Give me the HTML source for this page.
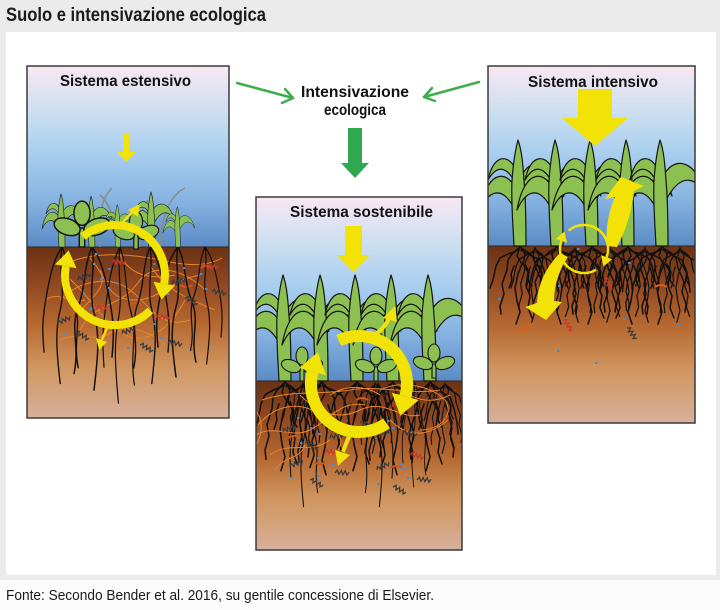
<!DOCTYPE html>
<html><head><meta charset="utf-8"><style>
html,body{margin:0;padding:0;background:#fff;}
svg{display:block;}
text{font-family:"Liberation Sans",sans-serif;}
</style></head><body>
<svg width="720" height="610" viewBox="0 0 720 610" xmlns="http://www.w3.org/2000/svg">
<defs>
<linearGradient id="sky" x1="0" y1="0" x2="0" y2="1">
<stop offset="0" stop-color="#f8e8f2"/><stop offset="0.25" stop-color="#cddff1"/><stop offset="0.5" stop-color="#a6cdee"/><stop offset="0.75" stop-color="#85b2e0"/><stop offset="1" stop-color="#5a8bc5"/>
</linearGradient>
<linearGradient id="soil" x1="0" y1="0" x2="0" y2="1">
<stop offset="0" stop-color="#6a3214"/><stop offset="0.2" stop-color="#8e4620"/><stop offset="0.45" stop-color="#b66830"/><stop offset="0.7" stop-color="#d09660"/><stop offset="0.85" stop-color="#d4a37c"/><stop offset="1" stop-color="#d8b09c"/>
</linearGradient>
<clipPath id="cL"><rect x="27" y="66" width="202" height="352"/></clipPath>
<clipPath id="cM"><rect x="256" y="197" width="206" height="353"/></clipPath>
<clipPath id="cR"><rect x="488" y="66" width="207" height="357"/></clipPath>
<g id="corn" fill="#8cc152" stroke="#151515" stroke-width="1.2" stroke-linejoin="round">
<path d="M-3,-74 C-10,-92 -26,-94 -32,-66 C-24,-80 -14,-82 -4,-62 Z"/>
<path d="M-2,-52 C-10,-76 -32,-80 -40,-36 C-32,-54 -18,-64 -4,-34 Z"/>
<path d="M-1,-64 C6,-88 32,-94 44,-50 C36,-66 20,-78 3,-44 Z"/>
<path d="M-6,0 C-7,-20 -9,-45 -8,-65 C-7,-80 -5,-95 -2,-106 C2,-95 3,-80 4,-65 C6,-45 6,-20 6,0 Z"/>
</g>
<g id="clover" fill="#8cc152" stroke="#151515" stroke-width="1.1">
<path d="M-2,0 L-2,-14 L2,-14 L2,0 Z"/>
<ellipse cx="-11" cy="-15" rx="10" ry="6" transform="rotate(20 -11 -15)"/>
<ellipse cx="11" cy="-15" rx="10" ry="6" transform="rotate(-20 11 -15)"/>
<ellipse cx="0" cy="-25" rx="6" ry="9"/>
</g>
<g id="rA" fill="none" stroke="#111" stroke-width="1.5" stroke-linejoin="round" stroke-linecap="round">
<path d="M0,0 L-3,10 L2,18 L-2,28 L-5,42 L-3,55 L0,66 L-4,78"/>
<path d="M0,0 L5,8 L3,18 L8,26 L6,40 L10,50 L8,62 L12,72"/>
<path d="M-1,2 L-8,8 L-12,14 L-13,24 L-18,38 L-16,48 L-20,60 L-19,68"/>
<path d="M1,2 L8,6 L14,12 L16,22 L22,36 L20,46 L24,58 L23,66"/>
<path d="M-1,4 L-12,8 L-20,12 L-24,20 L-27,34 L-30,42"/>
<path d="M1,4 L12,10 L20,14 L24,24 L27,36 L28,46"/>
<path d="M-6,20 L-9,28 L-8,34 L-11,42"/>
<path d="M5,18 L9,26 L8,34 L12,40"/>
</g>
<g id="rB" fill="none" stroke="#111" stroke-width="1.5" stroke-linejoin="round" stroke-linecap="round">
<path d="M0,0 C-4,20 4,40 -2,60 S-6,100 -2,130"/>
<path d="M0,0 C8,15 6,35 14,55 S12,90 18,115"/>
<path d="M0,0 C-10,12 -14,30 -18,50 S-22,80 -20,100"/>
</g>
<path id="wd" d="M0,0 l2,-3 l2,4 l2,-4 l2,4 l2,-4 l2,4 l2,-3" fill="none" stroke="#3a3a3a" stroke-width="1.3"/>
<path id="wr" d="M0,0 l2,-3 l2,4 l2,-4 l2,4 l2,-4 l2,4 l2,-3" fill="none" stroke="#c63a2a" stroke-width="1.3"/>
<rect id="bd" width="2.5" height="2" fill="#3d8ddb"/>
</defs>

<rect x="0" y="0" width="720" height="610" fill="#ebebeb"/>
<rect x="6" y="32" width="710" height="543" fill="#ffffff"/>
<rect x="0" y="580" width="720" height="30" fill="#fcfcfc"/>

<text x="6" y="21" font-size="19" font-weight="bold" fill="#1a1a1a" textLength="260" lengthAdjust="spacingAndGlyphs">Suolo e intensivazione ecologica</text>
<text x="6" y="600" font-size="15" fill="#1a1a1a" textLength="428" lengthAdjust="spacingAndGlyphs">Fonte: Secondo Bender et al. 2016, su gentile concessione di Elsevier.</text>

<!-- LEFT BOX -->
<g clip-path="url(#cL)">
<rect x="27" y="66" width="202" height="181" fill="url(#sky)"/>
<rect x="27" y="247" width="202" height="171" fill="url(#soil)"/>
<line x1="27" y1="247" x2="229" y2="247" stroke="#3b2212" stroke-width="1"/>
<g fill="none" stroke="#8a8a8a" stroke-width="1.5">
<path d="M100,247 C98,220 100,200 112,188"/>
<path d="M118,247 C114,222 112,205 100,195"/>
<path d="M160,247 C162,215 170,195 185,188"/>
<path d="M140,247 C138,225 140,210 148,200"/>
</g>
<g fill="none" stroke="#e8842c" stroke-width="1">
<path d="M70,262 C100,250 140,255 170,262 C200,268 215,262 222,258"/>
<path d="M60,300 C80,280 110,275 130,290 C150,305 160,330 190,320"/>
<path d="M80,330 C95,300 120,310 140,280 C155,262 185,270 205,290"/>
<path d="M65,275 C90,295 100,320 125,335 C145,345 170,330 185,300"/>
<path d="M90,258 C110,280 105,300 135,300 C160,300 170,280 200,275"/>
<path d="M100,340 C120,320 150,330 165,345"/>
<path d="M75,320 C85,300 110,290 100,270"/>
<path d="M150,265 C165,290 190,300 215,310"/>
<path d="M120,255 C130,275 150,280 175,275"/>
<path d="M60,340 C80,330 100,345 115,330"/>
<path d="M45,300 C60,290 70,305 85,300"/>
</g>
<g fill="none" stroke="#c9581a" stroke-width="2">
<path d="M200,268 q6,-4 12,0"/><path d="M180,285 q6,4 12,0"/><path d="M72,315 q6,-4 12,0"/><path d="M130,305 q6,-4 12,0"/>
</g>
<use href="#rB" transform="translate(62,247) scale(0.9,1.05)"/>
<use href="#rB" transform="translate(92,247) scale(-1,1.1)"/>
<use href="#rB" transform="translate(120,247) scale(0.8,1.2)"/>
<use href="#rB" transform="translate(150,247) scale(-0.9,1.05)"/>
<use href="#rB" transform="translate(178,247) scale(1,1.0)"/>
<use href="#rB" transform="translate(205,247) scale(-0.8,0.9)"/>
<use href="#wd" transform="translate(78,280) rotate(-20)"/>
<use href="#wd" transform="translate(172,284) rotate(-15)"/>
<use href="#wd" transform="translate(212,292) rotate(10)"/>
<use href="#wd" transform="translate(185,298) rotate(30)"/>
<use href="#wd" transform="translate(58,324) rotate(-25)"/>
<use href="#wd" transform="translate(76,333) rotate(30)"/>
<use href="#wd" transform="translate(122,334) rotate(-20)"/>
<use href="#wd" transform="translate(140,345) rotate(30)"/>
<use href="#wd" transform="translate(168,343) rotate(10)"/>
<use href="#wr" transform="translate(93,308)"/>
<use href="#wr" transform="translate(112,263)"/>
<use href="#wr" transform="translate(156,318)"/>
<use href="#wr" transform="translate(204,268)"/>
<use href="#bd" x="93" y="263"/><use href="#bd" x="108" y="268"/><use href="#bd" x="100" y="278"/><use href="#bd" x="115" y="282"/><use href="#bd" x="108" y="287"/><use href="#bd" x="83" y="293"/><use href="#bd" x="90" y="308"/><use href="#bd" x="63" y="333"/><use href="#bd" x="127" y="347"/><use href="#bd" x="137" y="320"/><use href="#bd" x="153" y="323"/><use href="#bd" x="160" y="337"/><use href="#bd" x="183" y="267"/><use href="#bd" x="200" y="273"/><use href="#bd" x="205" y="288"/><use href="#bd" x="95" y="253"/><use href="#bd" x="153" y="263"/><use href="#bd" x="167" y="293"/>
<use href="#corn" transform="translate(62,247) scale(0.5)"/>
<use href="#corn" transform="translate(92,247) scale(0.48)"/>
<use href="#corn" transform="translate(118,247) scale(0.4)"/>
<use href="#corn" transform="translate(152,247) scale(0.52)"/>
<use href="#corn" transform="translate(178,247) scale(0.38)"/>
<use href="#clover" transform="translate(82,247) scale(1.35)"/>
<use href="#clover" transform="translate(136,249) scale(1.1)"/>
<!-- yellow -->
<g fill="#f2e205">
<rect x="123" y="133" width="7" height="19"/>
<polygon points="117,152 136,152 126.5,162"/>
</g>
<g fill="none" stroke="#f2e205" stroke-width="8">
<path d="M82.9,236.7 A50,50 0 0 1 164.2,283.7"/>
<path d="M150.4,310.4 A50,50 0 0 1 65.8,266.3"/>
</g>
<g fill="#f2e205">
<polygon points="175,285.6 153.4,281.8 161.4,299.5"/>
<polygon points="55,264.4 76.6,268.2 68.6,250.5"/>
</g>
<g fill="none" stroke="#f2e205" stroke-width="2.5">
<path d="M118,228 Q128,216 133,212"/>
<path d="M110,322 Q104,334 102,340"/>
</g>
<g fill="#f2e205">
<polygon points="128,210 138,217 140,204"/>
<polygon points="96,338 107,342 99,350"/>
</g>
</g>
<rect x="27" y="66" width="202" height="352" fill="none" stroke="#3a3a3a" stroke-width="1.5"/>
<text x="60" y="86" font-size="16" font-weight="bold" fill="#111" textLength="131" lengthAdjust="spacingAndGlyphs">Sistema estensivo</text>

<!-- MIDDLE BOX -->
<g clip-path="url(#cM)">
<rect x="256" y="197" width="206" height="184" fill="url(#sky)"/>
<rect x="256" y="381" width="206" height="169" fill="url(#soil)"/>
<line x1="256" y1="381" x2="462" y2="381" stroke="#3b2212" stroke-width="1"/>
<use href="#rA" transform="translate(285,381) scale(1,1.15)"/>
<use href="#rA" transform="translate(322,381) scale(-1,1.2)"/>
<use href="#rA" transform="translate(357,381) scale(1,1.15)"/>
<use href="#rA" transform="translate(393,381) scale(-1,1.2)"/>
<use href="#rA" transform="translate(430,381) scale(1,1.15)"/>
<use href="#rA" transform="translate(303,383) scale(0.7,0.9)"/>
<use href="#rA" transform="translate(375,383) scale(0.7,0.9)"/>
<use href="#rA" transform="translate(445,383) scale(0.7,0.9)"/>
<use href="#rB" transform="translate(305,383) scale(0.7,0.95)"/>
<use href="#rB" transform="translate(378,383) scale(-0.7,0.95)"/>
<use href="#rB" transform="translate(415,383) scale(0.6,0.8)"/>
<g fill="none" stroke="#e8842c" stroke-width="1">
<path d="M258,425 C275,405 300,400 320,415 C340,430 350,445 330,455"/>
<path d="M250,440 C270,420 290,440 310,430 C330,420 340,400 365,405"/>
<path d="M262,400 C290,390 320,395 350,390 C380,385 410,395 440,390"/>
<path d="M270,455 C290,440 310,455 330,440"/>
<path d="M300,395 C320,415 340,420 360,410 C385,398 400,420 420,415"/>
<path d="M380,390 C400,380 430,385 445,400 C455,415 440,430 420,430"/>
<path d="M390,420 C410,440 430,435 448,420"/>
<path d="M330,395 C345,385 365,385 380,395"/>
<path d="M255,410 C265,420 262,440 252,450"/>
<path d="M400,385 C410,400 430,405 450,395"/>
<path d="M275,470 C285,455 300,460 305,445"/>
</g>
<g fill="none" stroke="#c9581a" stroke-width="2">
<path d="M288,438 q6,-4 12,0"/><path d="M314,462 q6,4 12,0"/><path d="M390,468 q6,-4 12,0"/><path d="M356,400 q6,-4 12,0"/>
</g>
<use href="#wd" transform="translate(283,432) rotate(-20)"/>
<use href="#wd" transform="translate(305,443) rotate(25)"/>
<use href="#wd" transform="translate(330,438) rotate(-10)"/>
<use href="#wd" transform="translate(360,423) rotate(15)"/>
<use href="#wd" transform="translate(377,437) rotate(-25)"/>
<use href="#wd" transform="translate(403,433) rotate(10)"/>
<use href="#wd" transform="translate(290,467) rotate(-20)"/>
<use href="#wd" transform="translate(310,480) rotate(30)"/>
<use href="#wd" transform="translate(335,473) rotate(5)"/>
<use href="#wd" transform="translate(377,470) rotate(-25)"/>
<use href="#wd" transform="translate(393,487) rotate(30)"/>
<use href="#wd" transform="translate(417,480) rotate(5)"/>
<use href="#wr" transform="translate(325,452) rotate(10)"/>
<use href="#wr" transform="translate(410,455) rotate(15)"/>
<use href="#wr" transform="translate(393,407) rotate(-40)"/>
<use href="#bd" x="297" y="417"/><use href="#bd" x="310" y="427"/><use href="#bd" x="300" y="442"/><use href="#bd" x="318" y="433"/><use href="#bd" x="317" y="457"/><use href="#bd" x="332" y="463"/><use href="#bd" x="290" y="477"/><use href="#bd" x="317" y="475"/><use href="#bd" x="377" y="483"/><use href="#bd" x="387" y="420"/><use href="#bd" x="392" y="427"/><use href="#bd" x="400" y="463"/><use href="#bd" x="402" y="468"/><use href="#bd" x="407" y="477"/>
<use href="#corn" transform="translate(285,381)"/>
<use href="#corn" transform="translate(322,381)"/>
<use href="#corn" transform="translate(357,381)"/>
<use href="#corn" transform="translate(393,381)"/>
<use href="#corn" transform="translate(430,381)"/>
<use href="#clover" transform="translate(302,381)"/>
<use href="#clover" transform="translate(376,381)"/>
<use href="#clover" transform="translate(434,378)"/>
<g fill="#f2e205">
<rect x="345" y="226" width="17" height="29"/>
<polygon points="337,255 370,255 353.5,272"/>
</g>
<g fill="none" stroke="#f2e205" stroke-width="12">
<path d="M338.7,340.5 A48,48 0 0 1 405.4,396.4"/>
<path d="M386.5,423.3 A48,48 0 0 1 312.6,371.6"/>
</g>
<g fill="#f2e205">
<polygon points="418.9,400 391.9,392.8 400.2,415.7"/>
<polygon points="299.1,368 326.1,375.2 317.8,352.3"/>
</g>
<g fill="none" stroke="#f2e205" stroke-width="4">
<path d="M366,340 Q383,332 389,318"/>
<path d="M353,428 Q346,443 343,452"/>
</g>
<g fill="#f2e205">
<polygon points="383,318 397,322 395,306"/>
<polygon points="335,450 350,455 338,466"/>
</g>
</g>
<rect x="256" y="197" width="206" height="353" fill="none" stroke="#3a3a3a" stroke-width="1.5"/>
<text x="290" y="217" font-size="16" font-weight="bold" fill="#111" textLength="143" lengthAdjust="spacingAndGlyphs">Sistema sostenibile</text>

<!-- RIGHT BOX -->
<g clip-path="url(#cR)">
<rect x="488" y="66" width="207" height="180" fill="url(#sky)"/>
<rect x="488" y="246" width="207" height="177" fill="url(#soil)"/>
<line x1="488" y1="246" x2="695" y2="246" stroke="#3b2212" stroke-width="1"/>
<use href="#rA" transform="translate(520,246)"/>
<use href="#rA" transform="translate(557,246) scale(-1,1)"/>
<use href="#rA" transform="translate(592,246)"/>
<use href="#rA" transform="translate(628,246) scale(-1,1)"/>
<use href="#rA" transform="translate(662,246)"/>
<use href="#rA" transform="translate(535,248) scale(0.8,0.95)"/>
<use href="#rA" transform="translate(575,248) scale(-0.8,0.95)"/>
<use href="#rA" transform="translate(610,248) scale(0.8,0.95)"/>
<use href="#rA" transform="translate(645,248) scale(-0.8,0.95)"/>
<use href="#rA" transform="translate(680,248) scale(0.8,0.95)"/>
<use href="#wd" transform="translate(627,328) rotate(55)"/>
<use href="#wr" transform="translate(563,320) rotate(55)"/>
<use href="#wr" transform="translate(604,278) rotate(60)"/>
<g fill="none" stroke="#d9601c" stroke-width="2">
<path d="M518,332 q8,-2 11,-8"/><path d="M655,287 q6,-4 12,0"/>
</g>
<use href="#bd" x="498" y="298"/><use href="#bd" x="558" y="285"/><use href="#bd" x="577" y="248"/><use href="#bd" x="623" y="318"/><use href="#bd" x="628" y="262"/><use href="#bd" x="678" y="323"/><use href="#bd" x="557" y="350"/><use href="#bd" x="595" y="362"/>
<use href="#corn" transform="translate(520,246)"/>
<use href="#corn" transform="translate(557,246)"/>
<use href="#corn" transform="translate(592,246)"/>
<use href="#corn" transform="translate(628,246)"/>
<use href="#corn" transform="translate(662,246)"/>
<g fill="#f2e205">
<rect x="578" y="89" width="34" height="29"/>
<polygon points="562,118 628,118 595,146"/>
<path d="M607,246 C605,228 609,211 615,197 L605,199 L621,177 L644,186 L634,191 C632,212 625,232 617,247 Z"/>
<path d="M560,253 C548,265 538,282 537,303 L525,307 L546,320 L562,302 L554,301 C554,285 560,268 568,257 Z"/>
</g>
<g fill="none" stroke="#f2e205" stroke-width="2.5">
<path d="M568.6,230.6 A24,24 0 0 1 606.6,257.2"/>
<path d="M596,269.8 A24,24 0 0 1 561.4,240.8"/>
</g>
<g fill="#f2e205">
<polygon points="612.2,259.3 601,255.1 603.5,266.5"/>
<polygon points="555.8,238.7 567,242.9 564.5,231.5"/>
</g>
</g>
<rect x="488" y="66" width="207" height="357" fill="none" stroke="#3a3a3a" stroke-width="1.5"/>
<text x="528" y="87" font-size="16" font-weight="bold" fill="#111" textLength="130" lengthAdjust="spacingAndGlyphs">Sistema intensivo</text>

<!-- center -->
<text x="301" y="97" font-size="16" font-weight="bold" fill="#111" textLength="108" lengthAdjust="spacingAndGlyphs">Intensivazione</text>
<text x="324" y="115" font-size="16" font-weight="bold" fill="#111" textLength="62" lengthAdjust="spacingAndGlyphs">ecologica</text>
<g fill="none" stroke="#3cae4a" stroke-width="2.5" stroke-linecap="round" stroke-linejoin="round">
<path d="M237,83 L293,98"/>
<path d="M285,89 L293,98 L282,103"/>
<path d="M479,82 L424,97"/>
<path d="M432,88 L424,97 L435,101"/>
</g>
<g fill="#2fa84f">
<rect x="348" y="128" width="14" height="36"/>
<polygon points="341,163 369,163 355,178"/>
</g>
</svg>
</body></html>
